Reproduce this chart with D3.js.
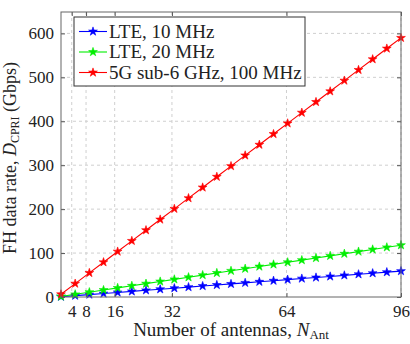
<!DOCTYPE html>
<html>
<head>
<meta charset="utf-8">
<script src="https://cdn.jsdelivr.net/npm/d3@7"></script>
<style>
  body { margin: 0; background: #fff; }
  svg text { font-family: 'Liberation Serif', 'Times New Roman', serif; fill: #222; }
</style>
</head>
<body>
<div id="my_dataviz"></div>
<script>
// number of antennas (sample points of the plot)
const antennas = [1, 4.96, 8.92, 12.88, 16.83, 20.79, 24.75, 28.71, 32.67, 36.63, 40.58, 44.54, 48.5,
  52.46, 56.42, 60.38, 64.33, 68.29, 72.25, 76.21, 80.17, 84.13, 88.08, 92.04, 96];

// FH data rate in Gbps
const lte10 = [0.61, 3.05, 5.48, 7.91, 10.34, 12.77, 15.21, 17.64, 20.07, 22.5, 24.93, 27.37, 29.8,
  32.23, 34.66, 37.09, 39.53, 41.96, 44.39, 46.82, 49.25, 51.69, 54.12, 56.55, 58.98];
const lte20 = [1.23, 6.09, 10.96, 15.82, 20.68, 25.55, 30.41, 35.28, 40.14, 45.0, 49.87, 54.73, 59.6,
  64.46, 69.33, 74.19, 79.05, 83.92, 88.78, 93.64, 98.51, 103.37, 108.24, 113.1, 117.96];
const nr100 = [6.14, 30.46, 54.78, 79.1, 103.42, 127.74, 152.06, 176.38, 200.71, 225.02, 249.34, 273.67, 297.98,
  322.3, 346.63, 370.94, 395.26, 419.59, 443.9, 468.22, 492.55, 516.86, 541.18, 565.5, 589.82];

const seriesNames = ['LTE, 10 MHz', 'LTE, 20 MHz', '5G sub-6 GHz, 100 MHz'];
const xTicks = [4, 8, 16, 32, 64, 96];
const yTicks = [0, 100, 200, 300, 400, 500, 600];

const colors = ['#0000ff', '#00ee00', '#ff0000'];
const allSeries = [lte10, lte20, nr100];

const margin = { top: 12, right: 9, bottom: 47, left: 61 },
  width = 410 - margin.left - margin.right,
  height = 344 - margin.top - margin.bottom;

const svgRoot = d3.select('#my_dataviz')
  .append('svg')
  .attr('width', 410)
  .attr('height', 344);

const svg = svgRoot.append('g')
  .attr('transform', 'translate(' + margin.left + ',' + margin.top + ')');

const x = d3.scaleLinear().domain([1, 96]).range([0, width]);
const y = d3.scaleLinear().domain([0, 648.7]).range([height, 0]);

// dashed grid
svg.append('g')
  .selectAll('line')
  .data(xTicks)
  .enter()
  .append('line')
  .attr('x1', d => x(d)).attr('x2', d => x(d))
  .attr('y1', 0).attr('y2', height)
  .attr('stroke', '#cfcfcf')
  .attr('stroke-dasharray', '3,3');

svg.append('g')
  .selectAll('line')
  .data(yTicks.slice(1))
  .enter()
  .append('line')
  .attr('x1', 0).attr('x2', width)
  .attr('y1', d => y(d)).attr('y2', d => y(d))
  .attr('stroke', '#cfcfcf')
  .attr('stroke-dasharray', '3,3');

// lines + star markers
const line = d3.line()
  .x((d, i) => x(antennas[i]))
  .y(d => y(d));

const star = d3.symbol().type(d3.symbolStar).size(24);

allSeries.forEach((vals, s) => {
  svg.append('path')
    .datum(vals)
    .attr('fill', 'none')
    .attr('stroke', colors[s])
    .attr('stroke-width', 1.1)
    .attr('d', line);

  svg.append('g')
    .selectAll('path')
    .data(vals)
    .enter()
    .append('path')
    .attr('d', star)
    .attr('transform', (d, i) => 'translate(' + x(antennas[i]) + ',' + y(d) + ')')
    .attr('fill', colors[s])
    .attr('stroke', colors[s])
    .attr('stroke-width', 0.6);
});

// axes, ticks pointing inward on all four sides
const styleAxis = g => {
  g.select('.domain').remove();
  g.selectAll('.tick line').attr('stroke', '#555');
  g.selectAll('text').attr('font-size', '17px').attr('fill', '#222');
};

svg.append('g')
  .attr('transform', 'translate(0,' + height + ')')
  .call(d3.axisBottom(x).tickValues(xTicks).tickSize(-4).tickPadding(7))
  .call(styleAxis)
  .selectAll('text').attr('dy', '0.75em');

svg.append('g')
  .call(d3.axisTop(x).tickValues(xTicks).tickSize(-4).tickFormat(''))
  .call(styleAxis);

svg.append('g')
  .call(d3.axisLeft(y).tickValues(yTicks).tickSize(-4).tickPadding(7))
  .call(styleAxis);

svg.append('g')
  .attr('transform', 'translate(' + width + ',0)')
  .call(d3.axisRight(y).tickValues(yTicks).tickSize(-4).tickFormat(''))
  .call(styleAxis);

// axis box
svg.append('rect')
  .attr('width', width)
  .attr('height', height)
  .attr('fill', 'none')
  .attr('stroke', '#666')
  .attr('stroke-width', 1);

// axis titles
const xLabel = svgRoot.append('text')
  .attr('x', margin.left + width / 2)
  .attr('y', 336)
  .attr('text-anchor', 'middle')
  .attr('font-size', '19px');
xLabel.append('tspan').text('Number of antennas, ');
xLabel.append('tspan').attr('font-style', 'italic').text('N');
xLabel.append('tspan').attr('font-size', '13px').attr('dy', 3).text('Ant');

const yLabel = svgRoot.append('text')
  .attr('transform', 'translate(16,' + (margin.top + 146) + ') rotate(-90)')
  .attr('text-anchor', 'middle')
  .attr('font-size', '18px');
yLabel.append('tspan').text('FH data rate, ');
yLabel.append('tspan').attr('font-style', 'italic').text('D');
yLabel.append('tspan').attr('font-size', '12px').attr('dy', 3).text('CPRI');
yLabel.append('tspan').attr('dy', -3).text(' (Gbps)');

// legend
const legend = svgRoot.append('g').attr('transform', 'translate(74,17)');
legend.append('rect')
  .attr('width', 231)
  .attr('height', 69)
  .attr('fill', '#fff')
  .attr('stroke', '#333')
  .attr('stroke-width', 1);

seriesNames.forEach((name, s) => {
  const row = legend.append('g').attr('transform', 'translate(0,' + (14.5 + s * 20.5) + ')');
  row.append('line')
    .attr('x1', 5).attr('x2', 33)
    .attr('stroke', colors[s])
    .attr('stroke-width', 1.1);
  row.append('path')
    .attr('d', star)
    .attr('transform', 'translate(19,0)')
    .attr('fill', colors[s])
    .attr('stroke', colors[s])
    .attr('stroke-width', 0.6);
  row.append('text')
    .attr('x', 35)
    .attr('dy', '0.33em')
    .attr('font-size', '19px')
    .text(name);
});
</script>
</body>
</html>
